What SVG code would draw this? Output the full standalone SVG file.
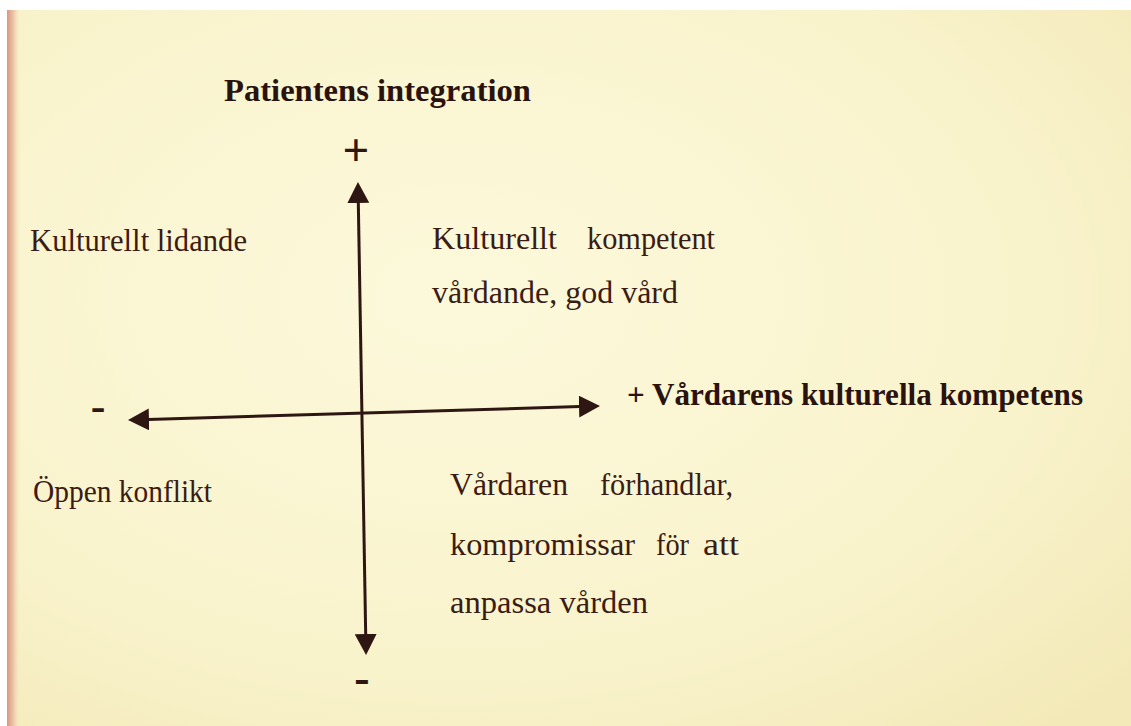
<svg xmlns="http://www.w3.org/2000/svg" width="1131" height="726" viewBox="0 0 1131 726">
  <defs>
    <radialGradient id="paper" cx="0.4" cy="0.4" r="0.8">
      <stop offset="0" stop-color="#fcf9db"/>
      <stop offset="0.65" stop-color="#f9f3cc"/>
      <stop offset="1" stop-color="#f3e9b8"/>
    </radialGradient>
    <linearGradient id="edge" x1="0" y1="0" x2="1" y2="0">
      <stop offset="0" stop-color="#d8987e"/>
      <stop offset="0.45" stop-color="#ecc4a8"/>
      <stop offset="1" stop-color="#f8f0c6" stop-opacity="0"/>
    </linearGradient>
    <marker id="arrow" viewBox="0 0 21 22" refX="1" refY="11" markerWidth="21" markerHeight="22" markerUnits="userSpaceOnUse" orient="auto-start-reverse">
      <path d="M0,0 L21,11 L0,22 Z" fill="#2e1712"/>
    </marker>
  </defs>
  <style>
    .t { font-family: "Liberation Serif", "Times New Roman", serif; font-size: 31px; fill: #3a1c14; }
    .b { font-family: "Liberation Serif", "Times New Roman", serif; font-size: 31px; font-weight: bold; fill: #2a130e; }
    .sym { font-family: "Liberation Serif", "Times New Roman", serif; font-weight: bold; fill: #2e1712; text-anchor: middle; }
    .axis { stroke: #2e1712; stroke-width: 3; fill: none; marker-start: url(#arrow); marker-end: url(#arrow); }
  </style>

  <!-- paper -->
  <rect x="0" y="0" width="1131" height="726" fill="#ffffff"/>
  <rect x="7" y="10" width="1124" height="716" fill="url(#paper)"/>
  <rect x="7" y="10" width="14" height="716" fill="url(#edge)"/>

  <g id="connectors">
    <line class="axis" x1="358.3" y1="202" x2="365.7" y2="635"/>
    <line class="axis" x1="148" y1="419.4" x2="580" y2="406.6"/>
  </g>

  <g id="title-y">
    <text class="b" x="224" y="101" style="font-size:32px" textLength="307" lengthAdjust="spacingAndGlyphs">Patientens integration</text>
  </g>
  <g id="plus-top">
    <text class="sym" x="356" y="166" style="font-size:47px">+</text>
  </g>
  <g id="minus-bottom">
    <text class="sym" x="362" y="693" style="font-size:46px">-</text>
  </g>
  <g id="minus-left">
    <text class="sym" x="98" y="421" style="font-size:44px">-</text>
  </g>
  <g id="title-x">
    <text class="b" x="627" y="405" textLength="456" lengthAdjust="spacingAndGlyphs">+ Vårdarens kulturella kompetens</text>
  </g>

  <g id="q-top-left">
    <text class="t" x="30" y="251" textLength="217" lengthAdjust="spacingAndGlyphs">Kulturellt lidande</text>
  </g>
  <g id="q-top-right">
    <text class="t" x="432" y="249" textLength="125" lengthAdjust="spacingAndGlyphs">Kulturellt</text>
    <text class="t" x="587" y="249" textLength="128" lengthAdjust="spacingAndGlyphs">kompetent</text>
    <text class="t" x="432" y="303" textLength="246" lengthAdjust="spacingAndGlyphs">vårdande, god vård</text>
  </g>
  <g id="q-bottom-left">
    <text class="t" x="33" y="502" textLength="179" lengthAdjust="spacingAndGlyphs">Öppen konflikt</text>
  </g>
  <g id="q-bottom-right">
    <text class="t" x="450" y="495" textLength="118" lengthAdjust="spacingAndGlyphs">Vårdaren</text>
    <text class="t" x="600" y="495" textLength="133" lengthAdjust="spacingAndGlyphs">förhandlar,</text>
    <text class="t" x="450" y="555" textLength="185" lengthAdjust="spacingAndGlyphs">kompromissar</text>
    <text class="t" x="656" y="555" textLength="33" lengthAdjust="spacingAndGlyphs">för</text>
    <text class="t" x="703" y="555" textLength="36" lengthAdjust="spacingAndGlyphs">att</text>
    <text class="t" x="450" y="613" textLength="198" lengthAdjust="spacingAndGlyphs">anpassa vården</text>
  </g>
</svg>
